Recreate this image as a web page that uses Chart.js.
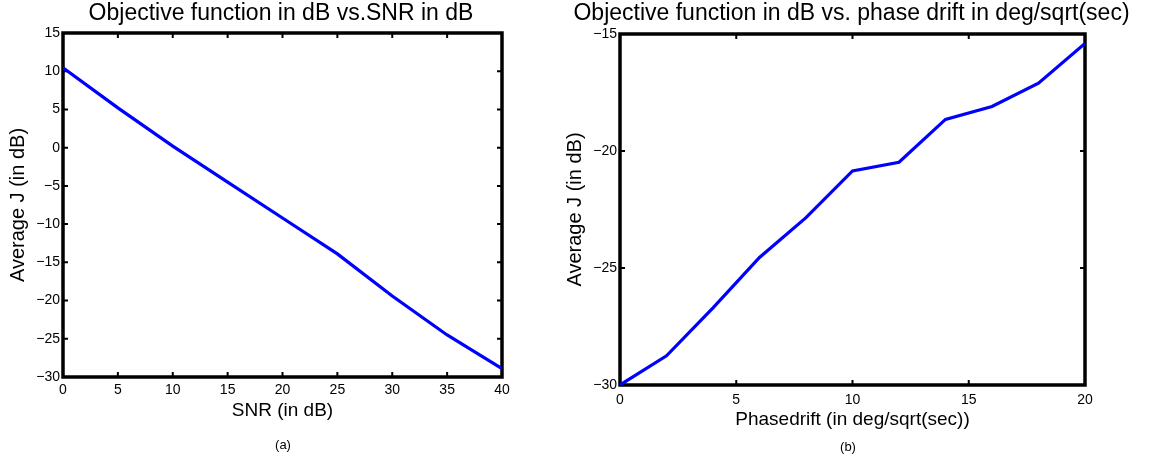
<!DOCTYPE html>
<html>
<head>
<meta charset="utf-8">
<script src="https://cdn.jsdelivr.net/npm/chart.js@4.4.1/dist/chart.umd.min.js"></script>
<style>
  body { margin: 0; background: #fff; width: 1153px; height: 456px; position: relative; overflow: hidden; }
  canvas { position: absolute; top: 0; }
  #left { left: 0; }
  #right { left: 553px; }
  .cap { position: absolute; font: 13px "Liberation Sans", Arial, sans-serif; color: #000; transform: translate(-50%, -50%); }
</style>
</head>
<body>
<canvas id="left" width="562" height="456"></canvas>
<canvas id="right" width="597" height="456"></canvas>
<div class="cap" style="left:283px; top:444px;">(a)</div>
<div class="cap" style="left:848px; top:446px;">(b)</div>
<script>
const snrDb = [0, 5, 10, 15, 20, 25, 30, 35, 40];
const jVsSnr = [10.45, 5.2, 0.2, -4.5, -9.2, -13.9, -19.4, -24.5, -28.9];

const driftDeg = [0, 2, 4, 6, 8, 10, 12, 14, 16, 18, 20];
const jVsDrift = [-30, -28.75, -26.7, -24.55, -22.85, -20.85, -20.48, -18.65, -18.1, -17.1, -15.4];

const leftTitle = 'Objective function in dB vs.SNR in dB';
const rightTitle = 'Objective function in dB vs. phase drift in deg/sqrt(sec)';

Chart.defaults.font.family = '"Liberation Sans", Arial, sans-serif';
Chart.defaults.color = '#000';

// matlab style box with inward ticks on all four sides
const matlabBox = {
  id: 'matlabBox',
  beforeDatasetsDraw(chart) {
    const { ctx, chartArea: a, scales: { x, y } } = chart;
    ctx.save();
    ctx.strokeStyle = '#000';
    ctx.lineWidth = 2;
    ctx.beginPath();
    x.ticks.forEach(t => {
      const px = x.getPixelForValue(t.value);
      ctx.moveTo(px, a.bottom); ctx.lineTo(px, a.bottom - 5);
      ctx.moveTo(px, a.top); ctx.lineTo(px, a.top + 5);
    });
    y.ticks.forEach(t => {
      const py = y.getPixelForValue(t.value);
      ctx.moveTo(a.left, py); ctx.lineTo(a.left + 5, py);
      ctx.moveTo(a.right, py); ctx.lineTo(a.right - 5, py);
    });
    ctx.stroke();
    ctx.lineWidth = 3.5;
    ctx.strokeRect(a.left, a.top, a.right - a.left, a.bottom - a.top);
    ctx.restore();
  }
};

const minus = v => String(v).replace('-', '\u2212');

function makeChart(id, opts) {
  return new Chart(document.getElementById(id), {
    type: 'line',
    data: {
      datasets: [{
        data: opts.xs.map((x, i) => ({ x, y: opts.ys[i] })),
        borderColor: '#0000ff',
        borderWidth: 3.2,
        pointRadius: 0,
        tension: 0
      }]
    },
    options: {
      responsive: false,
      animation: false,
      devicePixelRatio: 1,
      layout: { padding: 0 },
      plugins: {
        legend: { display: false },
        tooltip: { enabled: false },
        title: {
          display: true,
          text: opts.title,
          color: '#000',
          font: { size: 23, weight: 'normal', lineHeight: 1 },
          padding: { top: 2, bottom: opts.titleGap }
        }
      },
      scales: {
        x: {
          type: 'linear',
          min: opts.xMin, max: opts.xMax,
          grid: { display: false, drawTicks: false },
          border: { display: false },
          ticks: { stepSize: 5, font: { size: 14 }, padding: opts.xTickPad, callback: minus, maxRotation: 0 },
          title: { display: true, text: opts.xLabel, font: { size: 19 }, padding: { top: 0, bottom: opts.xTitlePad } },
          afterFit: s => { s.height = opts.xAxisH; }
        },
        y: {
          min: opts.yMin, max: opts.yMax,
          grid: { display: false, drawTicks: false },
          border: { display: false },
          ticks: { stepSize: 5, font: { size: 14 }, padding: 3, callback: minus },
          title: { display: true, text: 'Average J (in dB)', font: { size: 20 }, padding: { top: opts.yTitlePad, bottom: 0 } },
          afterFit: s => { s.width = opts.yAxisW; }
        },
        // empty right axis, only reserves the space right of the box
        yRight: {
          position: 'right',
          grid: { display: false, drawTicks: false },
          border: { display: false },
          ticks: { display: false },
          afterFit: s => { s.width = opts.rightW; }
        }
      }
    },
    plugins: [matlabBox]
  });
}

makeChart('left', {
  xs: snrDb, ys: jVsSnr, title: leftTitle,
  xMin: 0, xMax: 40, yMin: -30, yMax: 15,
  xLabel: 'SNR (in dB)',
  titleGap: 8, xAxisH: 79, yAxisW: 63, rightW: 60,
  xTickPad: 5, xTitlePad: 34, yTitlePad: 6
});

makeChart('right', {
  xs: driftDeg, ys: jVsDrift, title: rightTitle,
  xMin: 0, xMax: 20, yMin: -30, yMax: -15,
  xLabel: 'Phasedrift (in deg/sqrt(sec))',
  titleGap: 9, xAxisH: 71, yAxisW: 67, rightW: 65,
  xTickPad: 7, xTitlePad: 25, yTitlePad: 10
});
</script>
</body>
</html>
